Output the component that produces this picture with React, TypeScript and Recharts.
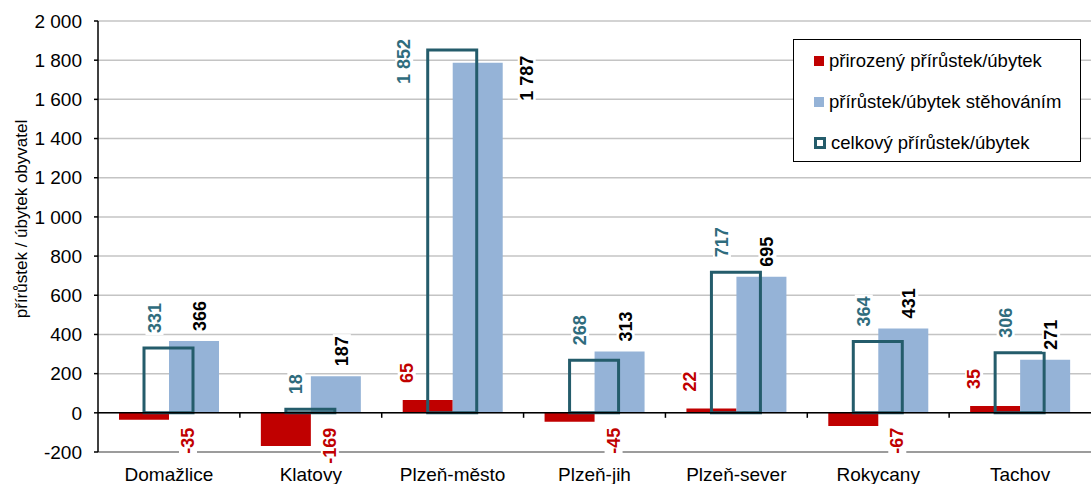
import React from 'react';
import { ComposedChart, Bar, XAxis, YAxis, CartesianGrid, Legend, ReferenceLine, LabelList } from 'recharts';

const categories = ['Domažlice', 'Klatovy', 'Plzeň-město', 'Plzeň-jih', 'Plzeň-sever', 'Rokycany', 'Tachov'];
const naturalChange = [-35, -169, 65, -45, 22, -67, 35];
const migrationChange = [366, 187, 1787, 313, 695, 431, 271];
const totalChange = [331, 18, 1852, 268, 717, 364, 306];
const yTicks = [-200, 0, 200, 400, 600, 800, 1000, 1200, 1400, 1600, 1800, 2000];

const seriesNames = {
  natural: 'přirozený přírůstek/úbytek',
  migration: 'přírůstek/úbytek stěhováním',
  total: 'celkový přírůstek/úbytek',
};

const chartData = categories.map((name, i) => ({
  name,
  natural: naturalChange[i],
  migration: migrationChange[i],
  total: totalChange[i],
}));

const FONT = '"Liberation Sans", Arial, sans-serif';
const RED = '#C00000';
const BLUE = '#95B3D7';
const TEAL = '#245C6B';
const TEAL_TEXT = '#2F6C7D';
const LABEL_SIZE = 18;
const TOP = 21;

const fmt = (v: number) => {
  const s = String(Math.abs(v)).replace(/\B(?=(\d{3})+(?!\d))/g, ' ');
  return v < 0 ? '-' + s : s;
};

// rough width of a bold number string
const textLen = (s: string) =>
  s.split('').reduce((a, c) => a + (c === ' ' ? 0.278 : c === '-' ? 0.333 : 0.556), 0) * LABEL_SIZE;

// vertical label, reading bottom to top, with white box behind it
const VLabel = ({ cx, at, anchor, text, color }: any) => {
  const len = textLen(text);
  const rx = anchor === 'end' ? -len - 2 : -2;
  return (
    <g transform={`translate(${cx},${at}) rotate(-90)`}>
      <rect x={rx} y={-LABEL_SIZE / 2} width={len + 4} height={LABEL_SIZE} fill="#fff" />
      <text
        x={0}
        y={0}
        dominantBaseline="central"
        textAnchor={anchor}
        fill={color}
        fontWeight="bold"
        fontSize={LABEL_SIZE}
        fontFamily={FONT}
      >
        {text}
      </text>
    </g>
  );
};

const geom = (props: any) => {
  const x = Number(props.x ?? props.viewBox?.x);
  const y = Number(props.y ?? props.viewBox?.y);
  const w = Number(props.width ?? props.viewBox?.width);
  const h = Number(props.height ?? props.viewBox?.height);
  return { center: x + w / 2, end: y, zero: y + h, w };
};

const naturalLabel = (props: any) => {
  const { center, end, zero } = geom(props);
  const v = Number(props.value);
  if (v < 0) {
    return <VLabel cx={center + 44} at={zero + 15} anchor="end" text={fmt(v)} color={RED} />;
  }
  return <VLabel cx={center - 21} at={end - 17} anchor="start" text={fmt(v)} color={RED} />;
};

const migrationLabel = (props: any) => {
  const { center, end, w } = geom(props);
  const text = fmt(Number(props.value));
  if (end - 10 - textLen(text) < TOP + 5) {
    return <VLabel cx={center + w - 1} at={end + 38} anchor="start" text={text} color="#000" />;
  }
  return <VLabel cx={center + 6} at={end - 10} anchor="start" text={text} color="#000" />;
};

const totalLabel = (props: any) => {
  const { center, end, w } = geom(props);
  const text = fmt(Number(props.value));
  if (end - 15 - textLen(text) < TOP + 5) {
    return <VLabel cx={center - w + 1} at={end + 34} anchor="start" text={text} color={TEAL_TEXT} />;
  }
  return <VLabel cx={center - 14} at={end - 15} anchor="start" text={text} color={TEAL_TEXT} />;
};

// zero line with small tick marks between categories
const ZeroLine = (props: any) => {
  const { x1, x2, y1 } = props;
  const step = (x2 - x1) / categories.length;
  return (
    <g>
      <line x1={x1} x2={x2} y1={y1} y2={y1} stroke="#000" strokeWidth={1.5} />
      {categories.slice(1).map((c, i) => (
        <line key={c} x1={x1 + step * (i + 1)} x2={x1 + step * (i + 1)} y1={y1} y2={y1 + 5} stroke="#000" strokeWidth={1.5} />
      ))}
    </g>
  );
};

const CategoryTick = (props: any) => (
  <text x={props.x} y={props.y + 29} textAnchor="middle" fontSize={19} fontFamily={FONT} fill="#000">
    {props.payload.value}
  </text>
);

const YLabel = () => (
  <text
    x={21}
    y={219}
    transform="rotate(-90, 21, 219)"
    textAnchor="middle"
    dominantBaseline="central"
    fontSize={17}
    fontFamily={FONT}
    fill="#000"
  >
    přírůstek / úbytek obyvatel
  </text>
);

const LegendBox = () => {
  const rows = [
    { key: 'natural', icon: <span style={{ display: 'inline-block', width: 10, height: 10, background: RED }} /> },
    { key: 'migration', icon: <span style={{ display: 'inline-block', width: 10, height: 10, background: BLUE }} /> },
    {
      key: 'total',
      icon: <span style={{ display: 'inline-block', width: 6, height: 6, border: `3px solid ${TEAL}`, background: '#fff' }} />,
    },
  ];
  return (
    <div
      style={{
        boxSizing: 'border-box',
        width: 288,
        height: 123,
        border: '1px solid #000',
        background: '#fff',
        fontFamily: FONT,
        fontSize: 18.5,
        paddingTop: 0,
      }}
    >
      {rows.map((r) => (
        <div key={r.key} style={{ display: 'flex', alignItems: 'center', height: 41, paddingLeft: 20, whiteSpace: 'nowrap' }}>
          {r.icon}
          <span style={{ marginLeft: 5 }}>{seriesNames[r.key as keyof typeof seriesNames]}</span>
        </div>
      ))}
    </div>
  );
};

const App = () => {
  return (
    <div style={{ position: 'fixed', left: 0, top: 0, width: 1091, height: 484, background: '#fff' }}>
      <ComposedChart
        width={1091}
        height={484}
        data={chartData}
        margin={{ top: TOP, right: 0, bottom: 0, left: 0 }}
        barGap={0}
      >
        <CartesianGrid vertical={false} stroke="#C4C4C4" strokeWidth={1.5} />
        <XAxis
          dataKey="name"
          axisLine={false}
          tickLine={false}
          tickSize={0}
          tickMargin={0}
          height={32}
          tick={<CategoryTick />}
          interval={0}
        />
        <XAxis xAxisId="t" dataKey="name" hide />
        <YAxis
          width={98}
          domain={[-200, 2000]}
          ticks={yTicks}
          interval={0}
          allowDataOverflow
          tickFormatter={fmt}
          tick={{ fontSize: 19, fontFamily: FONT, fill: '#000' }}
          tickSize={4}
          tickMargin={12}
          axisLine={{ stroke: '#000', strokeWidth: 1.5 }}
          tickLine={{ stroke: '#000', strokeWidth: 1.5 }}
          label={<YLabel />}
        />
        <YAxis yAxisId="t" domain={[-200, 2000]} allowDataOverflow hide />
        <ReferenceLine y={-200} stroke="#8A8A8A" strokeWidth={1.5} />
        <Bar dataKey="natural" name={seriesNames.natural} fill={RED} barSize={50} isAnimationActive={false}>
          <LabelList dataKey="natural" content={naturalLabel} />
        </Bar>
        <Bar dataKey="migration" name={seriesNames.migration} fill={BLUE} barSize={50} isAnimationActive={false}>
          <LabelList dataKey="migration" content={migrationLabel} />
        </Bar>
        <ReferenceLine y={0} shape={<ZeroLine />} />
        <Bar
          dataKey="total"
          name={seriesNames.total}
          xAxisId="t"
          yAxisId="t"
          fill="none"
          stroke={TEAL}
          strokeWidth={3}
          barSize={49}
          isAnimationActive={false}
        >
          <LabelList dataKey="total" content={totalLabel} />
        </Bar>
        <Legend
          layout="horizontal"
          verticalAlign="middle"
          align="center"
          wrapperStyle={{ left: 793, top: 39, width: 288, height: 123 }}
          content={<LegendBox />}
        />
      </ComposedChart>
    </div>
  );
};

export default App;
